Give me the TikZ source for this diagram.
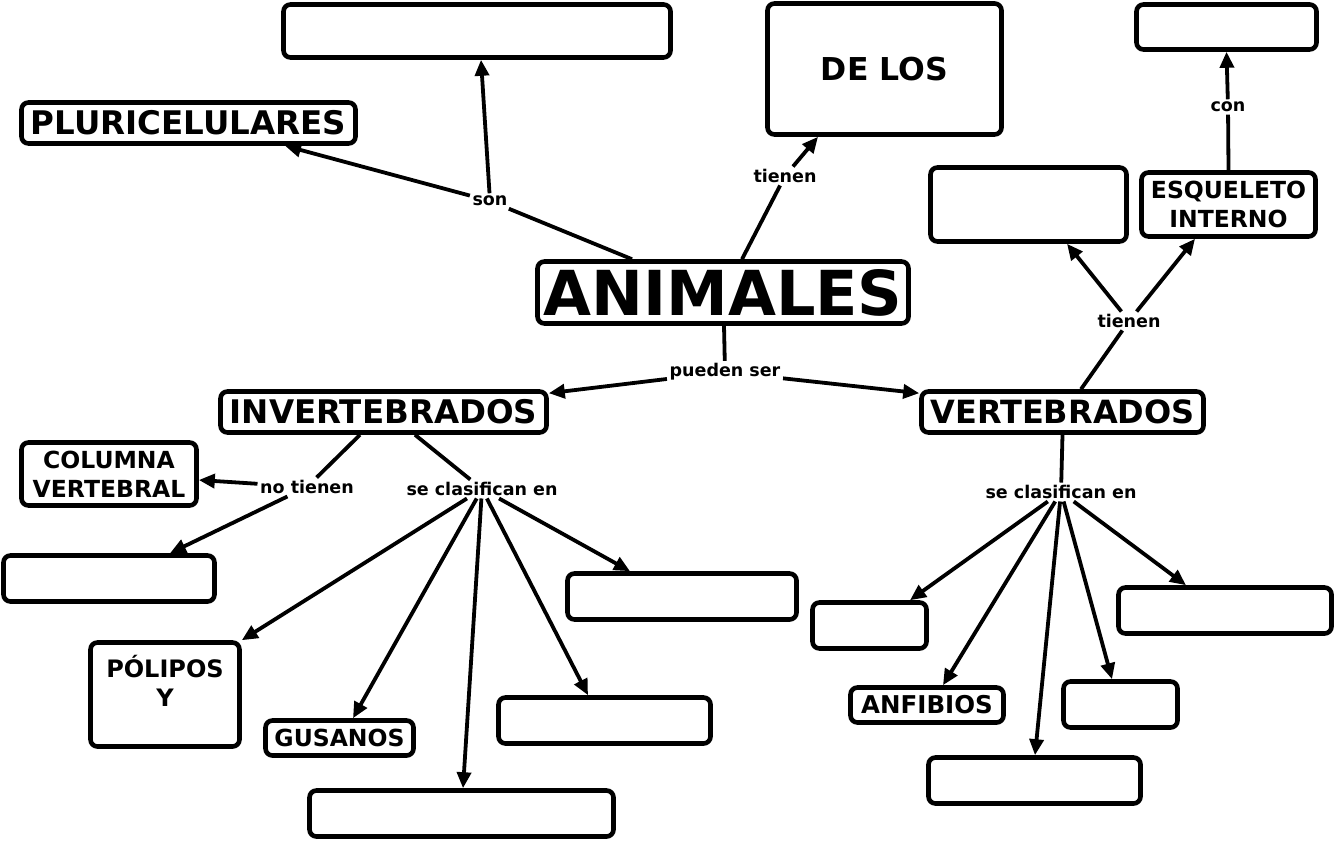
\documentclass[tikz,border=0pt]{standalone}
\usepackage{fontspec}
\setmainfont{DejaVu Sans}
\usetikzlibrary{arrows.meta}
\begin{document}
\begin{tikzpicture}[x=1pt,y=-1pt,
  box/.style={draw=black,line width=4.6pt,rounded corners=7pt,fill=white,inner sep=0pt,align=center,font=\bfseries\fontsize{23.5}{29}\selectfont},
  head/.style={box,font=\bfseries\fontsize{32.5}{36}\selectfont},
  lbl/.style={inner sep=2.5pt,font=\bfseries\fontsize{17.5}{19}\selectfont},
  conn/.style={line width=3.8pt},
  arr/.style={line width=3.8pt,-{Triangle[length=16pt,width=14pt]}}]
\useasboundingbox[fill=white] (0,0) rectangle (1337,842);
% boxes
\node[box,minimum width=387,minimum height=53] (t1) at (477,31) {};
\node[head,minimum width=234,minimum height=131,font=\bfseries\fontsize{31.5}{36}\selectfont] (delos) at (884.5,69) {DE LOS};
\node[box,minimum width=180,minimum height=45] (tr) at (1226.5,27) {};
\node[head,minimum width=334,minimum height=41] (plur) at (188.5,123) {PLURICELULARES};
\node[box,minimum width=371,minimum height=62,font=\bfseries\fontsize{62}{66}\selectfont] (ani) at (723,292.5) {ANIMALES};
\node[box,minimum width=196,minimum height=74] (mb) at (1028.5,204.5) {};
\node[box,minimum width=174,minimum height=64] (esq) at (1228.5,204.5) {ESQUELETO\\INTERNO};
\node[head,minimum width=326,minimum height=41] (inv) at (383.5,412) {INVERTEBRADOS};
\node[head,minimum width=282,minimum height=41,font=\bfseries\fontsize{32}{36}\selectfont] (vert) at (1062.5,412) {VERTEBRADOS};
\node[box,minimum width=175,minimum height=63,font=\bfseries\fontsize{23.5}{29}\selectfont] (col) at (109,474) {COLUMNA\\VERTEBRAL};
\node[box,minimum width=211,minimum height=46] (l1) at (109,578.5) {};
\node[box,minimum width=149,minimum height=104] (pol) at (165,694.5) {};
\node[font=\bfseries\fontsize{24}{29}\selectfont,align=center,inner sep=0pt] (polt) at (165,680.5) {PÓLIPOS\\Y};
\node[box,minimum width=148,minimum height=35] (gus) at (339.5,738) {GUSANOS};
\node[box,minimum width=304,minimum height=46] (bot) at (461.5,813.5) {};
\node[box,minimum width=212,minimum height=46] (m1) at (604.5,720.5) {};
\node[box,minimum width=229,minimum height=46] (m2) at (682,596.5) {};
\node[box,minimum width=114,minimum height=46] (v1) at (869.5,625.5) {};
\node[box,minimum width=153,minimum height=35,font=\bfseries\fontsize{24.5}{29}\selectfont] (anf) at (927,705) {ANFIBIOS};
\node[box,minimum width=212,minimum height=46] (v3) at (1034.5,780.5) {};
\node[box,minimum width=114,minimum height=46] (v4) at (1120.5,704.5) {};
\node[box,minimum width=213,minimum height=46] (v5) at (1225,610.5) {};
% labels
\node[lbl] (lson) at (490,201) {son};
\node[lbl] (ltien1) at (785,176) {tienen};
\node[lbl] (lcon) at (1228,107) {con};
\node[lbl] (ltien2) at (1129,321) {tienen};
\node[lbl] (lpued) at (725,372) {pueden ser};
\node[lbl] (lnot) at (307,487) {no tienen};
\node[lbl] (lsc1) at (482,489) {se clasifican en};
\node[lbl] (lsc2) at (1061,492) {se clasifican en};
% connectors
\draw[conn] ([xshift=-91pt]ani.north) -- (lson);
\draw[arr] (lson) -- ([xshift=96.5pt]plur.south);
\draw[arr] (lson) -- ([xshift=4pt]t1.south);
\draw[conn] ([xshift=19pt]ani.north) -- (ltien1);
\draw[arr] (ltien1) -- ([xshift=-66.5pt]delos.south);
\draw[conn] (esq.north) -- (lcon);
\draw[arr] (lcon) -- (tr.south);
\draw[conn] ([xshift=18.5pt]vert.north) -- (ltien2);
\draw[arr] (ltien2) -- ([xshift=38.5pt]mb.south);
\draw[arr] (ltien2) -- ([xshift=-33.5pt]esq.south);
\draw[conn] ([xshift=1pt]ani.south) -- (lpued);
\draw[arr] (lpued) -- ([yshift=-4pt]inv.north east);
\draw[arr] (lpued) -- ([yshift=-4pt]vert.north west);
\draw[conn] ([xshift=-23.5pt]inv.south) -- (lnot);
\draw[arr] (lnot) -- ([yshift=-6pt]col.east);
\draw[arr] (lnot) -- ([xshift=61pt]l1.north);
\draw[conn] ([xshift=31.5pt]inv.south) -- (lsc1);
\draw[arr] (lsc1) -- ([xshift=-52pt]m2.north);
\draw[arr] (lsc1) -- ([xshift=-16.5pt]m1.north);
\draw[arr] (lsc1) -- ([xshift=1.5pt]bot.north);
\draw[arr] (lsc1) -- ([xshift=13.5pt]gus.north);
\draw[arr] (lsc1) -- (pol.north east);
\draw[conn] (vert.south) -- (lsc2);
\draw[arr] (lsc2) -- ([xshift=40.5pt]v1.north);
\draw[arr] (lsc2) -- ([xshift=16pt]anf.north);
\draw[arr] (lsc2) -- ([xshift=0.5pt]v3.north);
\draw[arr] (lsc2) -- ([xshift=-8.5pt]v4.north);
\draw[arr] (lsc2) -- ([xshift=-39pt]v5.north);
\end{tikzpicture}
\end{document}
